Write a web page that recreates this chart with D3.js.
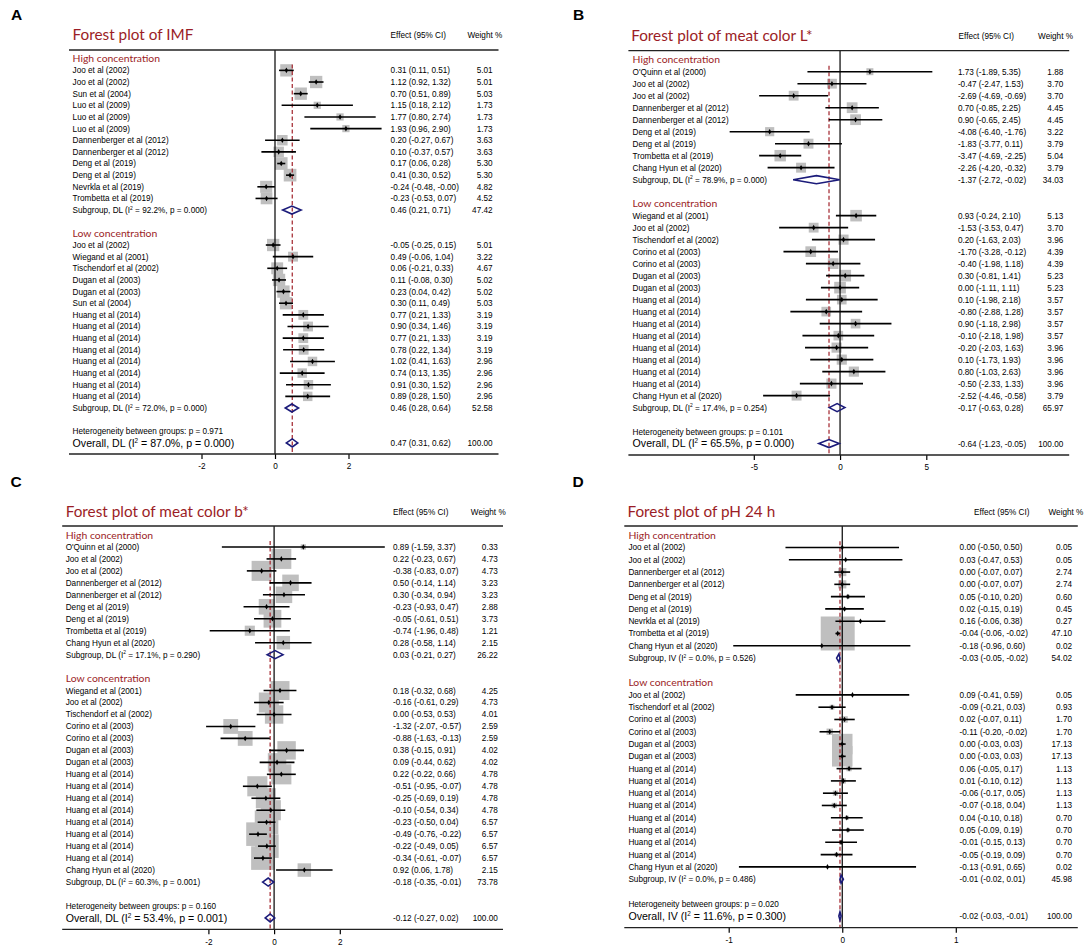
<!DOCTYPE html>
<html>
<head>
<meta charset="utf-8">
<script src="https://cdn.jsdelivr.net/npm/d3@7"></script>
<style>
  body { margin: 0; background: #fff; }
  svg { display: block; }
</style>
</head>
<body>
<svg id="chart" width="1084" height="948"></svg>
<script>
// ---------- data ----------
const groupNames = ["High concentration", "Low concentration"];

// A: IMF
const imfLabels = ["Joo et al (2002)", "Joo et al (2002)", "Sun et al (2004)", "Luo et al (2009)", "Luo et al (2009)", "Luo et al (2009)",
  "Dannenberger et al (2012)", "Dannenberger et al (2012)", "Deng et al (2019)", "Deng et al (2019)", "Nevrkla et al (2019)", "Trombetta et al (2019)",
  "Joo et al (2002)", "Wiegand et al (2001)", "Tischendorf et al (2002)", "Dugan et al (2003)", "Dugan et al (2003)", "Sun et al (2004)",
  "Huang et al (2014)", "Huang et al (2014)", "Huang et al (2014)", "Huang et al (2014)", "Huang et al (2014)", "Huang et al (2014)", "Huang et al (2014)", "Huang et al (2014)"];
const imfEst = [0.31, 1.12, 0.70, 1.15, 1.77, 1.93, 0.20, 0.10, 0.17, 0.41, -0.24, -0.23,
  -0.05, 0.49, 0.06, 0.11, 0.23, 0.30, 0.77, 0.90, 0.77, 0.78, 1.02, 0.74, 0.91, 0.89];
const imfLo = [0.11, 0.92, 0.51, 0.18, 0.80, 0.96, -0.27, -0.37, 0.06, 0.30, -0.48, -0.53,
  -0.25, -0.06, -0.21, -0.08, 0.04, 0.11, 0.21, 0.34, 0.21, 0.22, 0.41, 0.13, 0.30, 0.28];
const imfHi = [0.51, 1.32, 0.89, 2.12, 2.74, 2.90, 0.67, 0.57, 0.28, 0.52, -0.004, 0.07,
  0.15, 1.04, 0.33, 0.30, 0.42, 0.49, 1.33, 1.46, 1.33, 1.34, 1.63, 1.35, 1.52, 1.50];
const imfWt = [5.01, 5.01, 5.03, 1.73, 1.73, 1.73, 3.63, 3.63, 5.30, 5.30, 4.82, 4.52,
  5.01, 3.22, 4.67, 5.02, 5.02, 5.03, 3.19, 3.19, 3.19, 3.19, 2.96, 2.96, 2.96, 2.96];
const imfGroupSize = [12, 14];
const imfSubEst = [0.46, 0.46], imfSubLo = [0.21, 0.28], imfSubHi = [0.71, 0.64], imfSubWt = [47.42, 52.58];
const imfSubI2 = ["92.2%", "72.0%"], imfSubP = ["0.000", "0.000"];
const imfOverall = [0.47, 0.31, 0.62], imfOverallI2 = "87.0%", imfOverallP = "0.000", imfHetP = "0.971";
const imfTicks = [-2, 0, 2];

// B: meat color L*
const lLabels = ["O'Quinn et al (2000)", "Joo et al (2002)", "Joo et al (2002)", "Dannenberger et al (2012)", "Dannenberger et al (2012)",
  "Deng et al (2019)", "Deng et al (2019)", "Trombetta et al (2019)", "Chang Hyun et al (2020)",
  "Wiegand et al (2001)", "Joo et al (2002)", "Tischendorf et al (2002)", "Corino et al (2003)", "Corino et al (2003)", "Dugan et al (2003)", "Dugan et al (2003)",
  "Huang et al (2014)", "Huang et al (2014)", "Huang et al (2014)", "Huang et al (2014)", "Huang et al (2014)", "Huang et al (2014)", "Huang et al (2014)", "Huang et al (2014)",
  "Chang Hyun et al (2020)"];
const lEst = [1.73, -0.47, -2.69, 0.70, 0.90, -4.08, -1.83, -3.47, -2.26,
  0.93, -1.53, 0.20, -1.70, -0.40, 0.30, 0.00, 0.10, -0.80, 0.90, -0.10, -0.20, 0.10, 0.80, -0.50, -2.52];
const lLo = [-1.89, -2.47, -4.69, -0.85, -0.65, -6.40, -3.77, -4.69, -4.20,
  -0.24, -3.53, -1.63, -3.28, -1.98, -0.81, -1.11, -1.98, -2.88, -1.18, -2.18, -2.03, -1.73, -1.03, -2.33, -4.46];
const lHi = [5.35, 1.53, -0.69, 2.25, 2.45, -1.76, 0.11, -2.25, -0.32,
  2.10, 0.47, 2.03, -0.12, 1.18, 1.41, 1.11, 2.18, 1.28, 2.98, 1.98, 1.63, 1.93, 2.63, 1.33, -0.58];
const lWt = [1.88, 3.70, 3.70, 4.45, 4.45, 3.22, 3.79, 5.04, 3.79,
  5.13, 3.70, 3.96, 4.39, 4.39, 5.23, 5.23, 3.57, 3.57, 3.57, 3.57, 3.96, 3.96, 3.96, 3.96, 3.79];
const lGroupSize = [9, 16];
const lSubEst = [-1.37, -0.17], lSubLo = [-2.72, -0.63], lSubHi = [-0.02, 0.28], lSubWt = [34.03, 65.97];
const lSubI2 = ["78.9%", "17.4%"], lSubP = ["0.000", "0.254"];
const lOverall = [-0.64, -1.23, -0.05], lOverallI2 = "65.5%", lOverallP = "0.000", lHetP = "0.101";
const lTicks = [-5, 0, 5];

// C: meat color b*
const bLabels = ["O'Quinn et al (2000)", "Joo et al (2002)", "Joo et al (2002)", "Dannenberger et al (2012)", "Dannenberger et al (2012)",
  "Deng et al (2019)", "Deng et al (2019)", "Trombetta et al (2019)", "Chang Hyun et al (2020)",
  "Wiegand et al (2001)", "Joo et al (2002)", "Tischendorf et al (2002)", "Corino et al (2003)", "Corino et al (2003)", "Dugan et al (2003)", "Dugan et al (2003)",
  "Huang et al (2014)", "Huang et al (2014)", "Huang et al (2014)", "Huang et al (2014)", "Huang et al (2014)", "Huang et al (2014)", "Huang et al (2014)", "Huang et al (2014)",
  "Chang Hyun et al (2020)"];
const bEst = [0.89, 0.22, -0.38, 0.50, 0.30, -0.23, -0.05, -0.74, 0.28,
  0.18, -0.16, 0.00, -1.32, -0.88, 0.38, 0.09, 0.22, -0.51, -0.25, -0.10, -0.23, -0.49, -0.22, -0.34, 0.92];
const bLo = [-1.59, -0.23, -0.83, -0.14, -0.34, -0.93, -0.61, -1.96, -0.58,
  -0.32, -0.61, -0.53, -2.07, -1.63, -0.15, -0.44, -0.22, -0.95, -0.69, -0.54, -0.50, -0.76, -0.49, -0.61, 0.06];
const bHi = [3.37, 0.67, 0.07, 1.14, 0.94, 0.47, 0.51, 0.48, 1.14,
  0.68, 0.29, 0.53, -0.57, -0.13, 0.91, 0.62, 0.66, -0.07, 0.19, 0.34, 0.04, -0.22, 0.05, -0.07, 1.78];
const bWt = [0.33, 4.73, 4.73, 3.23, 3.23, 2.88, 3.73, 1.21, 2.15,
  4.25, 4.73, 4.01, 2.59, 2.59, 4.02, 4.02, 4.78, 4.78, 4.78, 4.78, 6.57, 6.57, 6.57, 6.57, 2.15];
const bGroupSize = [9, 16];
const bSubEst = [0.03, -0.18], bSubLo = [-0.21, -0.35], bSubHi = [0.27, -0.01], bSubWt = [26.22, 73.78];
const bSubI2 = ["17.1%", "60.3%"], bSubP = ["0.290", "0.001"];
const bOverall = [-0.12, -0.27, 0.02], bOverallI2 = "53.4%", bOverallP = "0.001", bHetP = "0.160";
const bTicks = [-2, 0, 2];

// D: pH 24 h
const phLabels = ["Joo et al (2002)", "Joo et al (2002)", "Dannenberger et al (2012)", "Dannenberger et al (2012)",
  "Deng et al (2019)", "Deng et al (2019)", "Nevrkla et al (2019)", "Trombetta et al (2019)", "Chang Hyun et al (2020)",
  "Joo et al (2002)", "Tischendorf et al (2002)", "Corino et al (2003)", "Corino et al (2003)", "Dugan et al (2003)", "Dugan et al (2003)",
  "Huang et al (2014)", "Huang et al (2014)", "Huang et al (2014)", "Huang et al (2014)", "Huang et al (2014)", "Huang et al (2014)", "Huang et al (2014)", "Huang et al (2014)",
  "Chang Hyun et al (2020)"];
const phEst = [0.00, 0.03, 0.00, 0.00, 0.05, 0.02, 0.16, -0.04, -0.18,
  0.09, -0.09, 0.02, -0.11, 0.00, 0.00, 0.06, 0.01, -0.06, -0.07, 0.04, 0.05, -0.01, -0.05, -0.13];
const phLo = [-0.50, -0.47, -0.07, -0.07, -0.10, -0.15, -0.06, -0.06, -0.96,
  -0.41, -0.21, -0.07, -0.20, -0.03, -0.03, -0.05, -0.10, -0.17, -0.18, -0.10, -0.09, -0.15, -0.19, -0.91];
const phHi = [0.50, 0.53, 0.07, 0.07, 0.20, 0.19, 0.38, -0.02, 0.60,
  0.59, 0.03, 0.11, -0.02, 0.03, 0.03, 0.17, 0.12, 0.05, 0.04, 0.18, 0.19, 0.13, 0.09, 0.65];
const phWt = [0.05, 0.05, 2.74, 2.74, 0.60, 0.45, 0.27, 47.10, 0.02,
  0.05, 0.93, 1.70, 1.70, 17.13, 17.13, 1.13, 1.13, 1.13, 1.13, 0.70, 0.70, 0.70, 0.70, 0.02];
const phGroupSize = [9, 15];
const phSubEst = [-0.03, -0.01], phSubLo = [-0.05, -0.02], phSubHi = [-0.02, 0.01], phSubWt = [54.02, 45.98];
const phSubI2 = ["0.0%", "0.0%"], phSubP = ["0.526", "0.486"];
const phOverall = [-0.02, -0.03, -0.01], phOverallI2 = "11.6%", phOverallP = "0.300", phHetP = "0.020";
const phTicks = [-1, 0, 1];

// ---------- layout ----------
const RED = "#9b1d26", NAVY = "#1b1b7a", GREY = "#bfbfbf";
const SANS = "'Liberation Sans', Arial, sans-serif";
const HEAD = "Lato, 'Liberation Sans', sans-serif";

const panels = [
  { letter: "A", title: "Forest plot of IMF", method: "DL",
    labels: imfLabels, est: imfEst, lo: imfLo, hi: imfHi, wt: imfWt, groups: imfGroupSize,
    subEst: imfSubEst, subLo: imfSubLo, subHi: imfSubHi, subWt: imfSubWt, subI2: imfSubI2, subP: imfSubP,
    overall: imfOverall, overallI2: imfOverallI2, overallP: imfOverallP, hetP: imfHetP, ticks: imfTicks,
    letterX: 11, letterY: 20, titleX: 72.6, titleY: 39.5, headY: 38, effHeadX: 390.6, wtHeadX: 467.4,
    left: 69, right: 498.5, top: 50, axisY: 454, labelX: 72.6, effX: 390.6, wtX: 492.6,
    xRange: [201.5, 348.5], box: 5.5 },
  { letter: "B", title: "Forest plot of meat color L*", method: "DL",
    labels: lLabels, est: lEst, lo: lLo, hi: lHi, wt: lWt, groups: lGroupSize,
    subEst: lSubEst, subLo: lSubLo, subHi: lSubHi, subWt: lSubWt, subI2: lSubI2, subP: lSubP,
    overall: lOverall, overallI2: lOverallI2, overallP: lOverallP, hetP: lHetP, ticks: lTicks,
    letterX: 573, letterY: 20, titleX: 631.2, titleY: 40.5, headY: 39, effHeadX: 958.6, wtHeadX: 1038.1,
    left: 628.4, right: 1069.2, top: 50.7, axisY: 455, labelX: 632.6, effX: 957.9, wtX: 1063.3,
    xRange: [753.8, 926.3], box: 5.1 },
  { letter: "C", title: "Forest plot of meat color b*", method: "DL",
    labels: bLabels, est: bEst, lo: bLo, hi: bHi, wt: bWt, groups: bGroupSize,
    subEst: bSubEst, subLo: bSubLo, subHi: bSubHi, subWt: bSubWt, subI2: bSubI2, subP: bSubP,
    overall: bOverall, overallI2: bOverallI2, overallP: bOverallP, hetP: bHetP, ticks: bTicks,
    letterX: 10.4, letterY: 487, titleX: 65.7, titleY: 516.7, headY: 515.3, effHeadX: 393, wtHeadX: 470.8,
    left: 62.2, right: 503, top: 526, axisY: 929.3, labelX: 65.7, effX: 393, wtX: 497.8,
    xRange: [208.4, 339.8], box: 9.2 },
  { letter: "D", title: "Forest plot of pH 24 h", method: "IV",
    labels: phLabels, est: phEst, lo: phLo, hi: phHi, wt: phWt, groups: phGroupSize,
    subEst: phSubEst, subLo: phSubLo, subHi: phSubHi, subWt: phSubWt, subI2: phSubI2, subP: phSubP,
    overall: phOverall, overallI2: phOverallI2, overallP: phOverallP, hetP: phHetP, ticks: phTicks,
    letterX: 572.4, letterY: 487, titleX: 627.4, titleY: 516.7, headY: 515.3, effHeadX: 974.1, wtHeadX: 1048.5,
    left: 624.3, right: 1077.8, top: 526, axisY: 927.7, labelX: 628.4, effX: 959.6, wtX: 1072,
    xRange: [728.7, 955.8], box: 4.95 }
];

const svg = d3.select("#chart");
const f2 = v => v.toFixed(2);
const ciText = (e, l, h) => `${f2(e)} (${f2(l)}, ${f2(h)})`;

// a label like "Subgroup, DL (I² = 92.2%, p = 0.000)" with a raised 2
function i2Label(sel, pre, i2, p, size) {
  sel.append("tspan").text(pre + " (I");
  sel.append("tspan").text("2").attr("font-size", size * 0.6).attr("dy", -size * 0.4);
  sel.append("tspan").text(` = ${i2}, p = ${p})`).attr("dy", size * 0.4);
}

panels.forEach(P => {
  // build the row list
  const rows = [];
  let k = 0;
  P.groups.forEach((n, g) => {
    rows.push({ type: "head", text: groupNames[g] });
    for (let j = 0; j < n; j++, k++) {
      rows.push({ type: "study", label: P.labels[k], est: P.est[k], lo: P.lo[k], hi: P.hi[k], wt: P.wt[k] });
    }
    rows.push({ type: "sub", est: P.subEst[g], lo: P.subLo[g], hi: P.subHi[g], wt: P.subWt[g], i2: P.subI2[g], p: P.subP[g] });
    rows.push({ type: "blank" });
  });
  rows.push({ type: "het" });
  rows.push({ type: "overall", est: P.overall[0], lo: P.overall[1], hi: P.overall[2], wt: 100 });
  rows.forEach((r, i) => r.i = i);
  const N = rows.length;

  const x = d3.scaleLinear().domain([P.ticks[0], P.ticks[P.ticks.length - 1]]).range(P.xRange);
  const y = d3.scaleLinear().domain([-0.75, N - 0.05]).range([P.top, P.axisY]);
  const h = y(1) - y(0);

  const g = svg.append("g");
  const studies = rows.filter(r => r.type === "study");
  const pooled = rows.filter(r => r.type === "sub" || r.type === "overall");

  // weight boxes
  g.selectAll(".box").data(studies).enter().append("rect")
    .attr("class", "box")
    .attr("x", d => x(d.est) - P.box * Math.sqrt(d.wt) / 2)
    .attr("y", d => y(d.i) - P.box * Math.sqrt(d.wt) / 2)
    .attr("width", d => P.box * Math.sqrt(d.wt))
    .attr("height", d => P.box * Math.sqrt(d.wt))
    .attr("fill", GREY);

  // line of no effect
  g.append("line")
    .attr("x1", x(0)).attr("x2", x(0))
    .attr("y1", P.top).attr("y2", P.axisY)
    .attr("stroke", "#000").attr("stroke-width", 1.2);

  // overall effect, dashed
  g.append("line")
    .attr("x1", x(P.overall[0])).attr("x2", x(P.overall[0]))
    .attr("y1", y(1) - h / 2).attr("y2", P.axisY)
    .attr("stroke", "#a8323a").attr("stroke-width", 1.3)
    .attr("stroke-dasharray", "4,2.5");

  // confidence intervals
  g.selectAll(".ci").data(studies).enter().append("line")
    .attr("class", "ci")
    .attr("x1", d => x(d.lo)).attr("x2", d => x(d.hi))
    .attr("y1", d => y(d.i)).attr("y2", d => y(d.i))
    .attr("stroke", "#000").attr("stroke-width", 1.6);

  // point estimates
  g.selectAll(".pt").data(studies).enter().append("path")
    .attr("class", "pt")
    .attr("d", d3.symbol(d3.symbolDiamond, 9))
    .attr("transform", d => `translate(${x(d.est)},${y(d.i)})`)
    .attr("fill", "#000");

  // pooled diamonds
  g.selectAll(".dia").data(pooled).enter().append("path")
    .attr("class", "dia")
    .attr("d", d => {
      const cy = y(d.i), dh = 4;
      return `M${x(d.lo)},${cy}L${x(d.est)},${cy - dh}L${x(d.hi)},${cy}L${x(d.est)},${cy + dh}Z`;
    })
    .attr("fill", "none").attr("stroke", NAVY).attr("stroke-width", 1.6);

  // text columns
  const fs = 8.2;
  rows.forEach(r => {
    const cy = y(r.i);
    if (r.type === "head") {
      g.append("text").attr("x", P.labelX).attr("y", cy).attr("dy", "0.36em")
        .attr("font-family", HEAD).attr("font-size", 10.4).attr("fill", RED).text(r.text);
    } else if (r.type === "study") {
      g.append("text").attr("x", P.labelX).attr("y", cy).attr("dy", "0.36em")
        .attr("font-family", SANS).attr("font-size", fs).text(r.label);
    } else if (r.type === "sub") {
      const t = g.append("text").attr("x", P.labelX).attr("y", cy).attr("dy", "0.36em")
        .attr("font-family", SANS).attr("font-size", fs);
      i2Label(t, `Subgroup, ${P.method}`, r.i2, r.p, fs);
    } else if (r.type === "het") {
      g.append("text").attr("x", P.labelX).attr("y", cy).attr("dy", "0.36em")
        .attr("font-family", SANS).attr("font-size", fs)
        .text(`Heterogeneity between groups: p = ${P.hetP}`);
    } else if (r.type === "overall") {
      const t = g.append("text").attr("x", P.labelX).attr("y", cy).attr("dy", "0.36em")
        .attr("font-family", SANS).attr("font-size", 10.6);
      i2Label(t, `Overall, ${P.method}`, P.overallI2, P.overallP, 10.6);
    }
    if (r.type === "study" || r.type === "sub" || r.type === "overall") {
      g.append("text").attr("x", P.effX).attr("y", cy).attr("dy", "0.36em")
        .attr("font-family", SANS).attr("font-size", fs).text(ciText(r.est, r.lo, r.hi));
      g.append("text").attr("x", P.wtX).attr("y", cy).attr("dy", "0.36em")
        .attr("text-anchor", "end")
        .attr("font-family", SANS).attr("font-size", fs).text(f2(r.wt));
    }
  });

  // titles and headers
  svg.append("text").attr("x", P.letterX).attr("y", P.letterY)
    .attr("font-family", SANS).attr("font-weight", "bold").attr("font-size", 15.5).text(P.letter);
  svg.append("text").attr("x", P.titleX).attr("y", P.titleY)
    .attr("font-family", HEAD).attr("font-size", 15.3).attr("fill", RED).text(P.title);
  svg.append("text").attr("x", P.effHeadX).attr("y", P.headY)
    .attr("font-family", SANS).attr("font-size", fs).text("Effect (95% CI)");
  svg.append("text").attr("x", P.wtHeadX).attr("y", P.headY)
    .attr("font-family", SANS).attr("font-size", fs).text("Weight %");

  // top rule
  g.append("line").attr("x1", P.left).attr("x2", P.right)
    .attr("y1", P.top).attr("y2", P.top)
    .attr("stroke", "#222").attr("stroke-width", 1.3);

  // x axis
  const ax = g.append("g").attr("transform", `translate(0,${P.axisY})`)
    .call(d3.axisBottom(x).tickValues(P.ticks).tickSize(5).tickFormat(d3.format("d")));
  ax.select(".domain").remove();
  ax.selectAll("line").attr("stroke", "#000").attr("stroke-width", 1.2);
  ax.selectAll("text").attr("font-family", SANS).attr("font-size", fs).attr("dy", "0.9em")
    .text(d => String(d));
  g.append("line").attr("x1", P.left).attr("x2", P.right)
    .attr("y1", P.axisY).attr("y2", P.axisY)
    .attr("stroke", "#222").attr("stroke-width", 1.3);
});
</script>
</body>
</html>
